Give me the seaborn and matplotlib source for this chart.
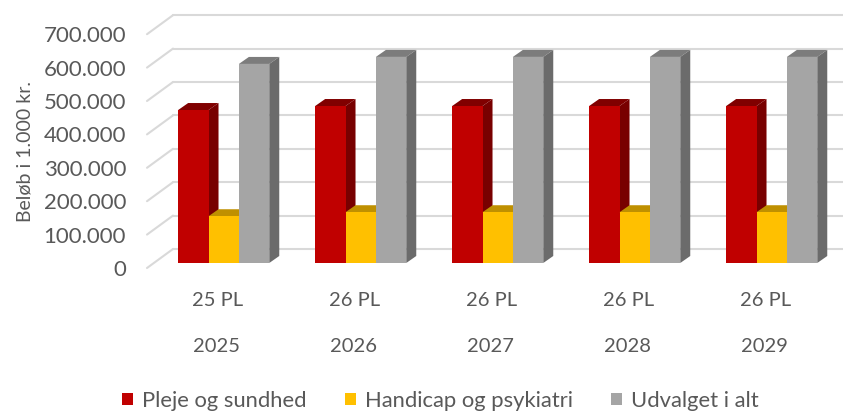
import matplotlib
matplotlib.use("Agg")
import matplotlib.pyplot as plt
from matplotlib.patches import Polygon
import pandas as pd
import seaborn as sns

years = ["2025", "2026", "2027", "2028", "2029"]
pl_labels = ["25 PL", "26 PL", "26 PL", "26 PL", "26 PL"]
pleje = [458000, 470000, 470000, 470000, 470000]
handicap = [140000, 152000, 152000, 152000, 152000]
udvalget = [596000, 617000, 617000, 617000, 617000]
y_ticks = [0, 100000, 200000, 300000, 400000, 500000, 600000, 700000]

names = ["Pleje og sundhed", "Handicap og psykiatri", "Udvalget i alt"]
front_colors = ["#c00000", "#ffc000", "#a5a5a5"]
top_colors = ["#800000", "#bf9000", "#7c7c7c"]
side_colors = ["#780000", "#b88a00", "#6b6b6b"]

df = pd.DataFrame({"year": years, names[0]: pleje, names[1]: handicap, names[2]: udvalget})
df = df.melt(id_vars="year", var_name="serie", value_name="belob")

sns.set_theme(style="white")
plt.rcParams["font.family"] = ["Lato", "DejaVu Sans"]

W, H = 843, 412
px_per_unit = 33.4 / 100000
px_per_cat = 137
first_center = 223.7

fig = plt.figure(figsize=(W / 100, H / 100), dpi=100)
# axes placed so that 0 on the bars sits at pixel row 263
ax = fig.add_axes([147 / W, 1 - 268 / H, (W - 147) / W, (268 - 8) / H])

sns.barplot(data=df, x="year", y="belob", hue="serie", palette=front_colors,
            width=0.665, saturation=1, gap=0, linewidth=0, ax=ax, zorder=5)

ax.set_xlim((147 - first_center) / px_per_cat, (W - first_center) / px_per_cat)
ax.set_ylim(-5 / px_per_unit, (263 - 8) / px_per_unit)
sns.despine(ax=ax, left=True, bottom=True, top=True, right=True)

# 3D look: floor/wall gridlines
wall_x = (173 - first_center) / px_per_cat
wall_dy = 14 / px_per_unit
front_dy = -5 / px_per_unit
for v in y_ticks:
    ax.plot([ax.get_xlim()[0], wall_x], [v + front_dy, v + wall_dy],
            color="#d9d9d9", lw=1.5, zorder=1, clip_on=False)
    ax.plot([wall_x, ax.get_xlim()[1]], [v + wall_dy, v + wall_dy],
            color="#d9d9d9", lw=1.5, zorder=1, clip_on=False)

# bar depth, top and side faces taken from the seaborn bars
dx = 10 / px_per_cat
dy = 7 / px_per_unit
for i, container in enumerate(ax.containers):
    for bar in container:
        bar.set_zorder(5 + i * 2)
        x0, x1 = bar.get_x(), bar.get_x() + bar.get_width()
        h = bar.get_height()
        ax.add_patch(Polygon([(x0, h), (x1, h), (x1 + dx, h + dy), (x0 + dx, h + dy)],
                             facecolor=top_colors[i], edgecolor="none", zorder=4 + i * 2))
        ax.add_patch(Polygon([(x1, 0), (x1 + dx, dy), (x1 + dx, h + dy), (x1, h)],
                             facecolor=side_colors[i], edgecolor="none", zorder=4 + i * 2))

text_color = "#595959"
ax.set_yticks([v + front_dy for v in y_ticks])
ax.set_yticklabels([f"{v:,}".replace(",", ".") for v in y_ticks])
ax.tick_params(axis="y", length=0, pad=15, labelsize=16, labelcolor=text_color)
ax.set_xticks([])
ax.set_xlabel("")
ax.set_ylabel("")

for i, (pl, year) in enumerate(zip(pl_labels, years)):
    ax.annotate(pl, xy=(i, 0), xytext=(-6, -38), xycoords="data", textcoords="offset pixels",
                ha="center", va="center", fontsize=14.5, color=text_color, annotation_clip=False)
    ax.annotate(year, xy=(i, 0), xytext=(-7, -84), xycoords="data", textcoords="offset pixels",
                ha="center", va="center", fontsize=14.5, color=text_color, annotation_clip=False)

fig.text(25 / W, 1 - 152 / H, "Beløb i 1.000 kr.", rotation=90, ha="center", va="center",
         fontsize=14, color=text_color)

sns.move_legend(ax, "center", bbox_to_anchor=(440.5 / W, 1 - 401 / H), bbox_transform=fig.transFigure,
                ncol=3, frameon=False, title=None, fontsize=15.8, labelcolor=text_color,
                handlelength=0.5, handleheight=0.5, handletextpad=0.4, columnspacing=1.75)

fig.savefig("out.png", dpi=100)
